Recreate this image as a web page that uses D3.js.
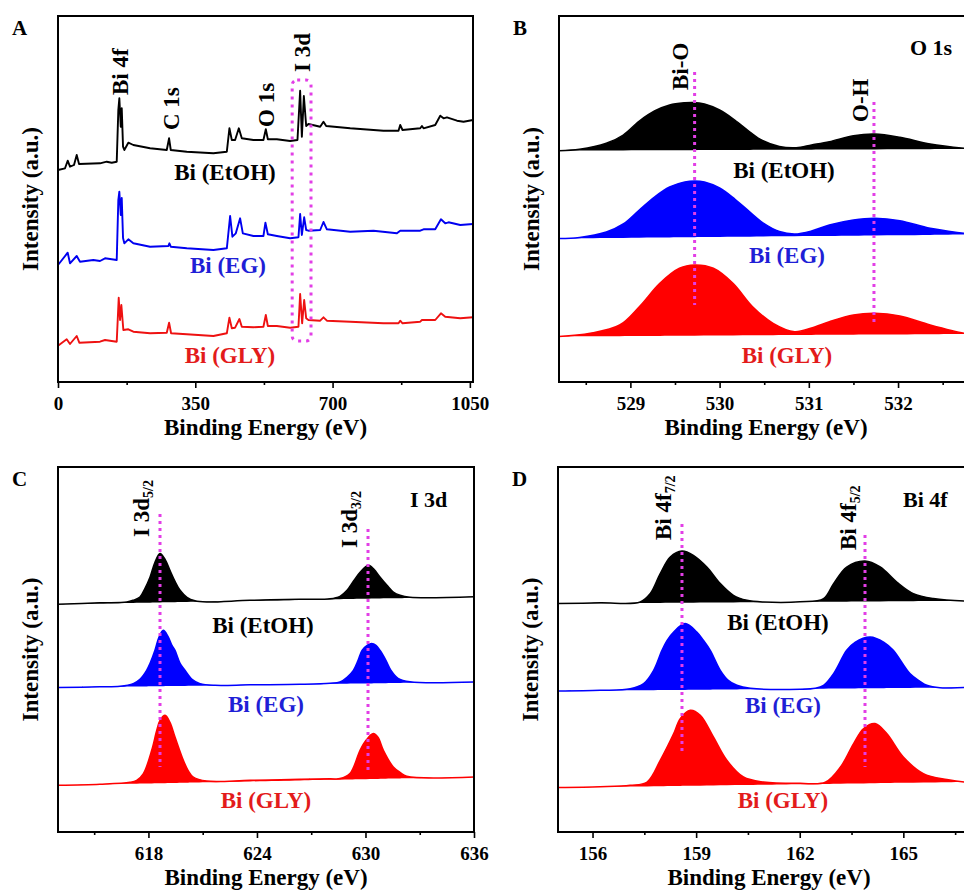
<!DOCTYPE html>
<html>
<head>
<meta charset="utf-8">
<script src="https://cdn.jsdelivr.net/npm/d3@7"></script>
<style>
  body { margin: 0; background: #fff; }
</style>
</head>
<body>
<script>
const fontFamily = '"Liberation Serif", "Times New Roman", serif';

const samples = ['Bi (EtOH)', 'Bi (EG)', 'Bi (GLY)'];
const lineColors = ['#000000', '#0000f0', '#ee1111'];
const fillColors = ['#000000', '#0000ff', '#ff0000'];
const textColors = ['#000000', '#1f1fd6', '#e31b1b'];
const guideColor = '#e23ee6';

// A: survey, [binding energy eV, intensity a.u.]
const surveyTicks = [0, 350, 700, 1050];
const surveyMinor = [175, 525, 875];
const surveyEtOH = [[0,212],[17.9,213.7],[24.7,221.3],[30.6,215.3],[40.8,217],[47.7,227],[53.6,218],[107.1,218.7],[124.2,220.3],[137,219.3],[149.7,220.3],[153.8,272],[156.4,283.7],[160,255.3],[162.5,273.7],[165.8,235.3],[169.1,232],[179.3,239.3],[192.1,237],[234.7,233.7],[277.3,232],[283.2,243.7],[287.5,232],[328.3,230.3],[396.2,228.7],[430.4,230.3],[437,253.7],[443.1,242],[451.5,242],[461,253.7],[468.6,243.7],[498.2,242],[523.7,242],[529.8,252.7],[535,242.7],[557.9,242.7],[591.8,241],[610.5,242],[617.3,291.3],[621.7,245.3],[626.8,286],[632.7,256],[638.5,258],[668.4,255.3],[676.8,260.3],[683.7,256],[744.9,253.7],[829.8,251.3],[868.1,251.3],[872.4,257],[878.3,252],[923.5,253.7],[927.8,256],[931.9,253.7],[961.7,257],[974.5,266.3],[982.9,263.7],[991.6,264.7],[1017.1,261.3],[1033.9,260.3],[1058,262]];
const surveyEG = [[0,117],[24.7,129.3],[30.6,118.7],[47.7,126],[56.1,120.3],[90,122],[107.1,121],[119.9,123.7],[149.7,122],[153.8,182],[156.4,190.3],[160,167],[162.5,184],[165.8,144],[169.1,138.7],[179.3,142.7],[192.1,138.7],[234.7,135.3],[281.4,136],[284,138.7],[287.5,135.3],[328.3,133.7],[396.2,132],[430.4,133.7],[438.8,166],[444.6,145.3],[453.3,148.7],[464.3,163.7],[471.2,148.7],[498.2,146],[523.7,146],[528.8,159.3],[535,147.7],[557.9,146],[591.8,143.7],[613,144.7],[617.3,168],[621.7,147],[627.6,164.7],[632.7,152],[638.5,151.3],[668.4,152],[676.8,160],[685.5,152.7],[744.9,150.3],[804.3,151.3],[864,148.7],[872.4,151.3],[923.5,151.3],[931.9,152.7],[961.7,152.7],[976.3,162.7],[987.2,158.7],[995.7,159.7],[1025.5,157],[1058,158]];
const surveyGLY = [[0,36.3],[22.2,42.7],[30.6,38],[47.7,46],[54.3,39.3],[107.1,40.3],[119.9,42],[149.7,40.3],[154.8,84.3],[158.2,62],[161.5,77],[166.6,52],[179.3,52.7],[192.1,50.3],[234.7,48.7],[277.3,49.3],[283.2,59.3],[288.3,48.7],[328.3,47.7],[396.2,46],[430.4,48.7],[437,64.3],[443.1,53.7],[451.5,54.3],[462.5,63],[468.6,55.3],[498.2,54.7],[523.7,55.3],[529.8,67],[535,56],[557.9,56],[591.8,54.3],[613,55.3],[617.3,88],[622.4,58.7],[627.6,82],[632.7,63.7],[638.5,62],[668.4,61.3],[676.8,64.7],[685.5,61.3],[744.9,60.3],[829.8,58.7],[868.1,58.7],[872.4,61.3],[878.3,58.7],[923.5,60.3],[927.8,62],[961.7,62],[976.3,68.7],[987.2,65.3],[1025.5,63.7],[1058,64.7]];

// B: O 1s
const o1sTicks = [529, 530, 531, 532];
const o1sMinor = [528.5, 529.5, 530.5, 531.5, 532.5];
const o1sEtOH = [[528.2,231.3],[528.43,232.7],[528.73,238.7],[528.92,247],[529.10,261],[529.27,271],[529.44,277],[529.61,279.2],[529.70,279.5],[529.83,278],[530.0,272],[530.17,262],[530.34,250],[530.48,241.5],[530.67,235.5],[530.86,234.3],[531.03,237],[531.23,240.3],[531.50,246.3],[531.74,248],[532.02,244.7],[532.36,238],[532.74,233.7],[532.84,233]];
const o1sEG = [[528.2,143.5],[528.43,144.5],[528.73,150],[528.92,158],[529.10,172],[529.27,185],[529.44,195],[529.61,200],[529.72,201],[529.83,200],[530.0,194],[530.17,183],[530.34,170],[530.49,159],[530.67,150.5],[530.84,148],[531.03,151],[531.23,157],[531.50,162],[531.74,163.7],[532.02,161.3],[532.36,153.7],[532.74,148.7],[532.84,147.5]];
const o1sGLY = [[528.2,45.5],[528.55,48.7],[528.88,57],[529.10,75.3],[529.33,98.7],[529.55,113.7],[529.72,117],[529.93,113.7],[530.15,98.7],[530.37,75.3],[530.60,58.7],[530.84,50.3],[531.03,54],[531.23,60.3],[531.50,67],[531.74,68.7],[532.02,66],[532.36,57],[532.74,48.7],[532.84,48]];
const o1sGuides = [[529.72, 310, 77], [531.73, 280, 60]];

// C: I 3d
const i3dTicks = [618, 624, 630, 636];
const i3dMinor = [615, 621, 627, 633];
const i3dEtOH = [[613,227.7],[615.32,229.2],[616.8,230],[617.15,231.7],[617.53,235],[617.81,243.7],[618.09,255],[618.36,269.7],[618.64,278.4],[618.92,272.7],[619.19,261.7],[619.47,250.7],[619.75,241.7],[620.13,234.7],[620.57,231.2],[621.22,230],[623.62,231.7],[626.38,232.7],[628.04,233.2],[628.59,235.7],[628.98,241.7],[629.33,250.7],[629.70,259.7],[630.16,266.7],[630.47,262.7],[630.80,255],[631.19,246.7],[631.54,240],[631.91,236.7],[632.46,234.7],[636,235.2]];
const i3dEG = [[613,144.4],[615.32,145.2],[616.43,145.7],[617.16,148.4],[617.53,152.7],[617.90,161.7],[618.09,168.7],[618.36,181.7],[618.58,194.7],[618.82,201.7],[619.08,195.7],[619.30,186.7],[619.47,181.7],[619.75,168.7],[620.02,161.7],[620.41,152.7],[620.85,148.4],[621.68,146.7],[623.62,147.2],[626.38,147.7],[628.04,148.7],[628.59,150],[628.98,154.7],[629.33,161.7],[629.59,171.7],[629.81,181.7],[630.09,186.7],[630.34,188.4],[630.58,186.7],[630.80,181.7],[631.13,171.7],[631.41,161.7],[631.80,153.7],[632.46,150.2],[636,150]];
const i3dGLY = [[613,46.7],[615.32,47.7],[616.98,49.7],[617.35,51.7],[617.72,58.4],[618.18,81.7],[618.46,101.7],[618.64,111.7],[618.92,116.7],[619.19,109.7],[619.47,95],[619.93,71.7],[620.19,61.7],[620.48,55],[621.22,51],[623.62,51.7],[626.38,52.7],[628.04,53.2],[628.59,53.4],[629.14,58.4],[629.70,81.7],[630.03,91.7],[630.43,98.4],[630.69,94.7],[630.99,81.7],[631.54,65],[631.91,59.7],[632.28,55.7],[636,55]];
const i3dGuides = [[618.64, 318, 65], [630.14, 303, 60]];

// D: Bi 4f
const bi4fTicks = [156, 159, 162, 165];
const bi4fMinor = [157.5, 160.5, 163.5, 166.5];
const bi4fEtOH = [[155,228.4],[156.22,229.2],[157.38,230],[157.67,238.4],[157.96,258.4],[158.25,275],[158.59,281],[158.92,276.7],[159.31,265],[159.70,248.4],[160.08,236.7],[160.47,231.7],[160.95,230],[162.01,230.2],[162.69,233.4],[162.98,248.4],[163.36,265],[163.89,271],[164.33,265],[164.81,250],[165.29,238.4],[165.87,233.4],[166.76,231],[167.22,231.2]];
const bi4fEG = [[155,141],[156.22,141.7],[157.09,143.2],[157.48,148.4],[157.77,161.7],[158.01,181.7],[158.16,191.7],[158.35,200],[158.68,208.4],[159.02,200],[159.21,191.7],[159.41,181.7],[159.70,161.7],[159.93,151.7],[160.18,146.7],[160.57,143.7],[162.01,142.7],[162.45,143.7],[162.69,146.7],[162.98,158.4],[163.36,181.7],[163.60,189.7],[164.04,195],[164.44,189.7],[164.71,181.7],[165.19,158.4],[165.48,150.7],[165.68,146.7],[166.06,144.2],[166.76,144.4],[167.22,144.7]];
const bi4fGLY = [[155,44.4],[156.22,45.2],[157.09,46.7],[157.58,50],[157.96,71.7],[158.35,98.4],[158.54,113.4],[158.83,121.7],[159.12,116.7],[159.50,95],[159.89,71.7],[160.37,55],[160.95,50],[162.01,48.7],[162.74,49.7],[163.18,65],[163.56,88.4],[163.85,103.4],[164.18,108.4],[164.52,98.4],[165.0,75],[165.58,58.4],[166.26,52.4],[166.76,50],[167.22,50.2]];
const bi4fGuides = [[158.59, 308, 77], [163.89, 297, 65]];

const svg = d3.select('body').append('svg')
    .attr('width', 964)
    .attr('height', 893)
    .attr('font-family', fontFamily)
    .attr('font-weight', 'bold');

const panels = [
    {letter: 'A', left: 58, right: 473, top: 16, bottom: 382, domain: [0, 1058],
     ticks: surveyTicks, minor: surveyMinor, series: [surveyEtOH, surveyEG, surveyGLY], filled: false,
     guides: [],
     sampleLabels: [[225, 180], [228, 273], [230, 363]],
     peakLabels: [['Bi 4f', '', 120, 95], ['C 1s', '', 171, 130], ['O 1s', '', 266, 127], ['I 3d', '', 302, 72]],
     corner: null},
    {letter: 'B', left: 559, right: 973, top: 16, bottom: 382, domain: [528.2, 532.84],
     ticks: o1sTicks, minor: o1sMinor, series: [o1sEtOH, o1sEG, o1sGLY], filled: true,
     guides: o1sGuides,
     sampleLabels: [[784, 178], [787, 263], [787, 363]],
     peakLabels: [['Bi-O', '', 680, 90], ['O-H', '', 860, 122]],
     corner: ['O 1s', 910, 55]},
    {letter: 'C', left: 58, right: 474, top: 467, bottom: 832, domain: [613, 636],
     ticks: i3dTicks, minor: i3dMinor, series: [i3dEtOH, i3dEG, i3dGLY], filled: true,
     guides: i3dGuides,
     sampleLabels: [[263, 633], [266, 712], [266, 808]],
     peakLabels: [['I 3d', '5/2', 141, 537], ['I 3d', '3/2', 349, 548]],
     corner: ['I 3d', 410, 507]},
    {letter: 'D', left: 558, right: 980, top: 467, bottom: 832, domain: [155, 167.22],
     ticks: bi4fTicks, minor: bi4fMinor, series: [bi4fEtOH, bi4fEG, bi4fGLY], filled: true,
     guides: bi4fGuides,
     sampleLabels: [[778, 630], [783, 713], [783, 808]],
     peakLabels: [['Bi 4f', '7/2', 663, 540], ['Bi 4f', '5/2', 848, 550]],
     corner: ['Bi 4f', 903, 507]}
];

panels.forEach(drawPanel);

function drawPanel(p) {
    const x = d3.scaleLinear().domain(p.domain).range([p.left, p.right]);
    const y = d3.scaleLinear().domain([0, p.bottom - p.top]).range([p.bottom, p.top]);
    const g = svg.append('g');
    const smooth = d3.curveCatmullRom.alpha(0.5);

    p.series.forEach((s, i) => {
        if (p.filled) {
            // fill down to the straight background under each spectrum
            const base = d3.scaleLinear()
                .domain([s[0][0], s[s.length - 1][0]])
                .range([s[0][1], s[s.length - 1][1]]);
            g.append('path')
                .datum(s)
                .attr('fill', fillColors[i])
                .attr('d', d3.area()
                    .curve(smooth)
                    .x(d => x(d[0]))
                    .y0(d => y(base(d[0])))
                    .y1(d => y(d[1])));
            g.append('path')
                .datum(s)
                .attr('fill', 'none')
                .attr('stroke', fillColors[i])
                .attr('stroke-width', 1.5)
                .attr('d', d3.line()
                    .curve(smooth)
                    .x(d => x(d[0]))
                    .y(d => y(d[1])));
        } else {
            g.append('path')
                .datum(s)
                .attr('fill', 'none')
                .attr('stroke', lineColors[i])
                .attr('stroke-width', 1.9)
                .attr('stroke-linejoin', 'round')
                .attr('d', d3.line()
                    .x(d => x(d[0]))
                    .y(d => y(d[1])));
        }
    });

    // dotted peak guides
    p.guides.forEach(gd => {
        g.append('line')
            .attr('x1', x(gd[0])).attr('x2', x(gd[0]))
            .attr('y1', y(gd[1])).attr('y2', y(gd[2]))
            .attr('stroke', guideColor)
            .attr('stroke-width', 3)
            .attr('stroke-dasharray', '3,4');
    });

    if (p.letter === 'A') {
        // dotted box round the I 3d peaks
        g.append('rect')
            .attr('x', x(597)).attr('y', y(302))
            .attr('width', x(645) - x(597))
            .attr('height', y(41) - y(302))
            .attr('rx', 5)
            .attr('fill', 'none')
            .attr('stroke', guideColor)
            .attr('stroke-width', 3)
            .attr('stroke-dasharray', '3,5');
    }

    // axes
    const major = g.append('g')
        .attr('transform', `translate(0,${p.bottom})`)
        .call(d3.axisBottom(x).tickValues(p.ticks).tickFormat(d3.format('d'))
            .tickSize(6).tickSizeOuter(0).tickPadding(9));
    major.select('.domain').remove();
    major.selectAll('line').attr('stroke-width', 1.6);
    major.selectAll('text')
        .attr('font-family', fontFamily)
        .attr('font-weight', 'bold')
        .attr('font-size', 19)
        .attr('fill', '#000');
    major.attr('font-family', null).attr('font-size', null);

    const minor = g.append('g')
        .attr('transform', `translate(0,${p.bottom})`)
        .call(d3.axisBottom(x).tickValues(p.minor).tickFormat('').tickSize(3).tickSizeOuter(0));
    minor.select('.domain').remove();
    minor.selectAll('line').attr('stroke-width', 1.6);

    g.append('rect')
        .attr('x', p.left).attr('y', p.top)
        .attr('width', p.right - p.left)
        .attr('height', p.bottom - p.top)
        .attr('fill', 'none')
        .attr('stroke', '#000')
        .attr('stroke-width', 2);

    // titles
    g.append('text')
        .attr('x', (p.left + p.right) / 2)
        .attr('y', p.bottom + 53)
        .attr('text-anchor', 'middle')
        .attr('font-size', 23)
        .text('Binding Energy (eV)');

    g.append('text')
        .attr('transform', `translate(${p.left - 20},${(p.top + p.bottom) / 2}) rotate(-90)`)
        .attr('text-anchor', 'middle')
        .attr('font-size', 23)
        .text('Intensity (a.u.)');

    g.append('text')
        .attr('x', p.left - 46)
        .attr('y', p.top + 19)
        .attr('font-size', 21)
        .text(p.letter);

    samples.forEach((name, i) => {
        g.append('text')
            .attr('x', p.sampleLabels[i][0])
            .attr('y', p.sampleLabels[i][1])
            .attr('text-anchor', 'middle')
            .attr('font-size', 23)
            .attr('fill', textColors[i])
            .text(name);
    });

    p.peakLabels.forEach(pl => {
        const t = g.append('text')
            .attr('transform', `translate(${pl[2]},${pl[3]}) rotate(-90)`)
            .attr('dy', '0.35em')
            .attr('font-size', 23)
            .text(pl[0]);
        if (pl[1]) {
            t.append('tspan')
                .attr('dy', '0.3em')
                .attr('font-size', 14)
                .text(pl[1]);
        }
    });

    if (p.corner) {
        g.append('text')
            .attr('x', p.corner[1])
            .attr('y', p.corner[2])
            .attr('font-size', 22)
            .text(p.corner[0]);
    }
}
</script>
</body>
</html>
